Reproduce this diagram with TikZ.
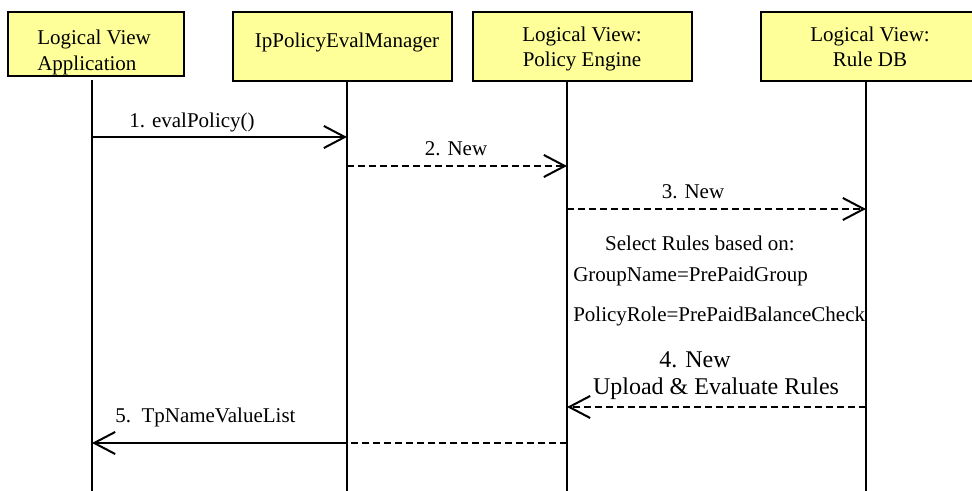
\documentclass[tikz,border=0pt]{standalone}
\usepackage{fontspec}
\setmainfont{Liberation Serif}
\usetikzlibrary{arrows.meta}
\definecolor{boxyellow}{HTML}{FFFF99}
\begin{document}
\begin{tikzpicture}[x=0.75pt,y=-0.75pt,
  actor/.style={draw=black, line width=1.5pt, fill=boxyellow, inner sep=0pt, outer sep=0pt},
  hdr/.style={font=\fontsize{15.75}{18.75}\selectfont, inner sep=0pt, anchor=base},
  lbl/.style={font=\fontsize{15.75}{18.75}\selectfont, inner sep=0pt, anchor=base},
  biglbl/.style={font=\fontsize{18}{21}\selectfont, inner sep=0pt, anchor=base},
  life/.style={line width=1.5pt},
  msg/.style={line width=1.5pt, -{Straight Barb[length=15.75pt,width=16.5pt]}},
  dsh/.style={line width=1.5pt, dash pattern=on 5.25pt off 3pt},
  ret/.style={msg, dash pattern=on 5.25pt off 3pt}]

\useasboundingbox (0,0) rectangle (972,491);
\clip (0,0) rectangle (972,491);

% header boxes
\node[actor, minimum width=132pt, minimum height=48pt] (app) at (96,44) {};
\node[actor, minimum width=164.25pt, minimum height=51.75pt] (mgr) at (342.5,46.5) {};
\node[actor, minimum width=164.25pt, minimum height=51.75pt] (eng) at (582.5,46.5) {};
\node[actor, minimum width=172.5pt, minimum height=51.75pt] (rdb) at (876,46.5) {};

\node[hdr, anchor=base west] (appA) at (37,45) {Logical View};
\node[hdr, anchor=base west] (appB) at (37,71) {Application};
\node[hdr] (mgrA) at (347,48) {IpPolicyEvalManager};
\node[hdr] (engA) at (582,42) {Logical View:};
\node[hdr] (engB) at (582,67) {Policy Engine};
\node[hdr] (rdbA) at (870,42) {Logical View:};
\node[hdr] (rdbB) at (870,67) {Rule DB};

% lifelines
\coordinate (appT) at (92,80);   \coordinate (appE) at (92,495);
\coordinate (mgrT) at (347,81);  \coordinate (mgrE) at (347,495);
\coordinate (engT) at (567,81);  \coordinate (engE) at (567,495);
\coordinate (rdbT) at (866,81);  \coordinate (rdbE) at (866,495);
\draw[life] (appT) -- (appE);
\draw[life] (mgrT) -- (mgrE);
\draw[life] (engT) -- (engE);
\draw[life] (rdbT) -- (rdbE);

% message points
\coordinate (m1s) at (92,137);  \coordinate (m1e) at (347,137);
\coordinate (m2s) at (347,166); \coordinate (m2e) at (567,166);
\coordinate (m3s) at (567,209); \coordinate (m3e) at (866,209);
\coordinate (m4s) at (866,407); \coordinate (m4e) at (567,407);
\coordinate (m5s) at (567,443); \coordinate (m5m) at (347,443); \coordinate (m5e) at (92,443);

\draw[msg] (m1s) -- (m1e);
\draw[ret] (m2s) -- (m2e);
\draw[ret] (m3s) -- (m3e);
\draw[ret] (m4s) -- (m4e);
\draw[dsh] (m5s) -- (m5m);
\draw[msg] (m5m) -- (m5e);

% labels
\node[lbl] (l1) at (192,128) {1. evalPolicy()};
\node[lbl] (l2) at (456,156) {2. New};
\node[lbl] (l3) at (693,199) {3. New};
\node[lbl] (sel) at (700,251) {Select Rules based on:};
\node[lbl, anchor=base west] (grp) at (573,282) {GroupName=PrePaidGroup};
\node[lbl, anchor=base west] (pol) at (573,322) {PolicyRole=PrePaidBalanceCheck};
\node[biglbl] (l4a) at (695,368) {4. New};
\node[biglbl] (l4b) at (716,395) {Upload \& Evaluate Rules};
\node[lbl, anchor=base west] (l5) at (115,423) {5.\ \ TpNameValueList};
\end{tikzpicture}
\end{document}
